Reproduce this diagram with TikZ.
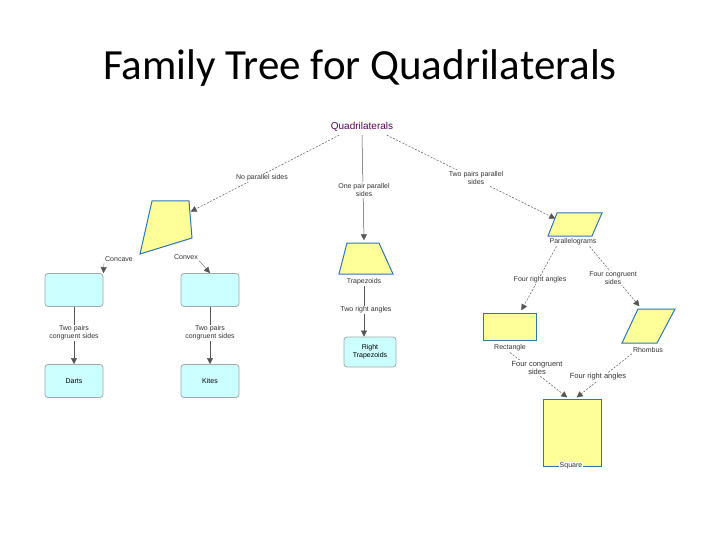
\documentclass[tikz,border=0pt]{standalone}
\usepackage{fontspec}
\setmainfont{Liberation Sans}
\newfontfamily\titlefont{Carlito}
\usetikzlibrary{arrows.meta, backgrounds}
\definecolor{boxfill}{HTML}{CCFFFF}
\definecolor{shapefill}{HTML}{FFFF99}
\definecolor{edgeblue}{HTML}{2E75B6}
\definecolor{linegray}{HTML}{555555}
\tikzstyle{box} = [rectangle, rounded corners=3pt, minimum width=58pt, minimum height=33pt, draw=gray!70, line width=0.8pt, fill=boxfill, font=\fontsize{7}{8}\selectfont, align=center]
\tikzstyle{lbl} = [font=\fontsize{7}{8}\selectfont, align=center, fill=white, inner sep=1pt, text=black!80]
\tikzstyle{spot} = [inner sep=0pt, minimum size=1pt]
\tikzstyle{figshape} = [draw=edgeblue, line width=1pt, fill=shapefill]
\tikzstyle{arrow} = [linegray, line width=0.5pt, -{Triangle[length=6pt,width=6pt]}]
\tikzstyle{darrow} = [arrow, dash pattern=on 2pt off 1.5pt]

\begin{document}
\begin{tikzpicture}[x=1pt,y=-1pt]
\useasboundingbox (0,0) rectangle (720,540);
\node (title) at (360,68) {\titlefont\fontsize{43}{46}\selectfont Family Tree for Quadrilaterals};
\node (quad) at (362,127) [text=violet!70!black, font=\fontsize{10}{11}\selectfont] {Quadrilaterals};

% shapes
\draw [figshape] (152,201) -- (189,201) -- (192,238) -- (140,254) -- cycle;
\node (kite) [spot] at (190,212) {};
\draw [figshape] (347,243) -- (379,243) -- (393,274) -- (339,274) -- cycle;
\node (trap) [spot] at (364,241) {};
\draw [figshape] (557,213) -- (602,213) -- (592,236) -- (548,236) -- cycle;
\node (para) [spot] at (556,219) {};
\draw [figshape] (483,313) rectangle (536,340);
\node (rect) [spot] at (521,311) {};
\draw [figshape] (638,309) -- (675,309) -- (657,343) -- (622,343) -- cycle;
\node (rhom) [spot] at (640,307) {};
\draw [figshape] (543,399) rectangle (601,466);
\node (sqa) [spot] at (568,398) {};
\node (sqb) [spot] at (576,398) {};

% boxes
\node (concave) [box] at (74,290) {};
\node (darts) [box] at (74,381) {Darts};
\node (convex) [box] at (210,290) {};
\node (kites) [box] at (210,381) {Kites};
\node (rtrap) [box, minimum width=52pt, minimum height=30pt] at (370,352) {Right\\Trapezoids};

% labels
\node [lbl] at (262,178) {No parallel sides};
\node [lbl] at (364,190) {One pair parallel\\sides};
\node [lbl] at (476,178) {Two pairs parallel\\sides};
\node (lconc) [lbl] at (119,259) {Concave};
\node (lconv) [lbl] at (186,257) {Convex};
\node [lbl] at (74,333) {Two pairs\\congruent sides};
\node [lbl] at (210,333) {Two pairs\\congruent sides};
\node (ltrap) [lbl] at (364,282) {Trapezoids};
\node [lbl] at (366,310) {Two right angles};
\node (lpara) [lbl] at (573,242) {Parallelograms};
\node [lbl] at (540,280) {Four right angles};
\node [lbl] at (613,278) {Four congruent\\sides};
\node (lrect) [lbl] at (510,348) {Rectangle};
\node (lrhom) [lbl] at (648,350) {Rhombus};
\node [lbl, font=\fontsize{7.5}{8.5}\selectfont] at (537,368) {Four congruent\\sides};
\node [lbl, font=\fontsize{7.5}{8.5}\selectfont] at (598,377) {Four right angles};
\node [lbl] at (571,466) {Square};

% connectors
\begin{scope}[on background layer]
\draw [darrow] (quad.south west) ++(12,0) -- (kite);
\draw [arrow] (quad.south) -- (trap);
\draw [darrow] (quad.south east) ++(-10,0) -- (para);
\draw [arrow, line width=0.3pt] (lconc.south west) -- (concave.north east);
\draw [arrow, line width=0.3pt] (lconv.south east) -- (convex.north);
\draw [arrow] (concave.south) -- (darts.north);
\draw [arrow] (convex.south) -- (kites.north);
\draw [arrow] (ltrap.south) -- (rtrap.north -| ltrap.south);
\draw [darrow] (lpara.south west) ++(8,0) -- (rect);
\draw [darrow] (lpara.south east) ++(-8,0) -- (rhom);
\draw [darrow] (lrect.south) -- (sqa);
\draw [darrow] (lrhom.south west) -- (sqb);
\end{scope}
\end{tikzpicture}
\end{document}
